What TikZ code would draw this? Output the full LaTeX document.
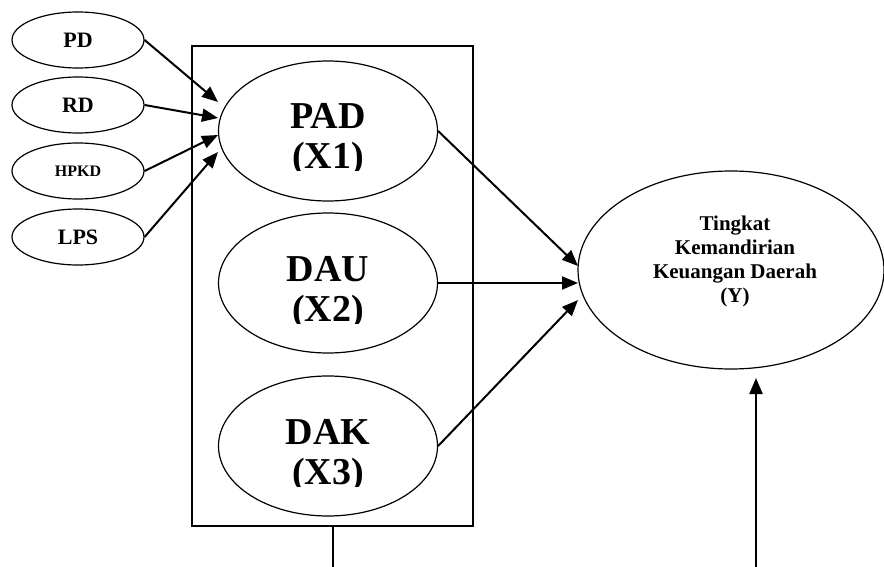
\documentclass[tikz,border=0pt]{standalone}
\usepackage{fontspec}
\setmainfont{Liberation Serif}
\usetikzlibrary{arrows.meta,shapes.geometric}

\tikzset{
  smallell/.style={draw, ellipse, line width=1.2pt, minimum width=132pt, minimum height=56pt, inner sep=0pt, font=\bfseries\fontsize{22}{24}\selectfont},
  bigell/.style={draw, ellipse, line width=1.2pt, minimum width=219pt, minimum height=140pt, inner sep=0pt},
  bigtext/.style={inner sep=0pt, anchor=base, font=\bfseries\fontsize{38}{40}\selectfont},
  arr/.style={line width=2pt, -{Triangle[length=16pt,width=13pt]}},
}

\begin{document}
\begin{tikzpicture}[x=1pt,y=-1pt]
  \useasboundingbox (0,0) rectangle (884,567);
  % indicators of PAD
  \node[smallell] (pd) at (78,40) {PD};
  \node[smallell] (rd) at (78,105) {RD};
  \node[smallell, font=\bfseries\fontsize{16}{18}\selectfont] (hpkd) at (78,171) {HPKD};
  \node[smallell] (lps) at (78,237) {LPS};
  % box round X1..X3
  \node[draw, line width=1.5pt, minimum width=281pt, minimum height=480pt, inner sep=0pt] (box) at (332.5,286) {};
  \foreach \n/\t/\c/\yy in {pad/PAD/X1/131, dau/DAU/X2/283, dak/DAK/X3/446} {
    \node[bigell] (\n) at (328,\yy) {};
    \begin{scope}
      \clip (210,\yy-90) rectangle (445,\yy+40);
      \node[bigtext] (\n-a) at (328,\yy-2) {\t};
      \node[bigtext] (\n-b) at (328,\yy+38) {(\c)};
    \end{scope}
  }
  % Y
  \node[draw, ellipse, line width=1.2pt, minimum width=306pt, minimum height=198pt, inner sep=0pt] (y) at (731,270) {};
  \node[align=center, inner sep=0pt, font=\bfseries\fontsize{21}{24}\selectfont] (ytext) at (735,261)
    {Tingkat\\Kemandirian\\Keuangan Daerah\\(Y)};

  \coordinate (t1) at (218,102);
  \coordinate (t2) at (218,118);
  \coordinate (t3) at (218,135);
  \coordinate (t4) at (218,152);
  \draw[arr] (pd.east) -- (t1);
  \draw[arr] (rd.east) -- (t2);
  \draw[arr] (hpkd.east) -- (t3);
  \draw[arr] (lps.east) -- (t4);

  \coordinate (y1) at (578,266);
  \coordinate (y2) at (578,283);
  \coordinate (y3) at (578,300);
  \draw[arr] (pad.east) -- (y1);
  \draw[arr] (dau.east) -- (y2);
  \draw[arr] (dak.east) -- (y3);

  \coordinate (b1) at (332.5,567);
  \draw[line width=2pt] (box.south) -- (b1);
  \coordinate (b2) at (756,567);
  \coordinate (y4) at (756,378);
  \draw[arr] (b2) -- (y4);
\end{tikzpicture}
\end{document}
